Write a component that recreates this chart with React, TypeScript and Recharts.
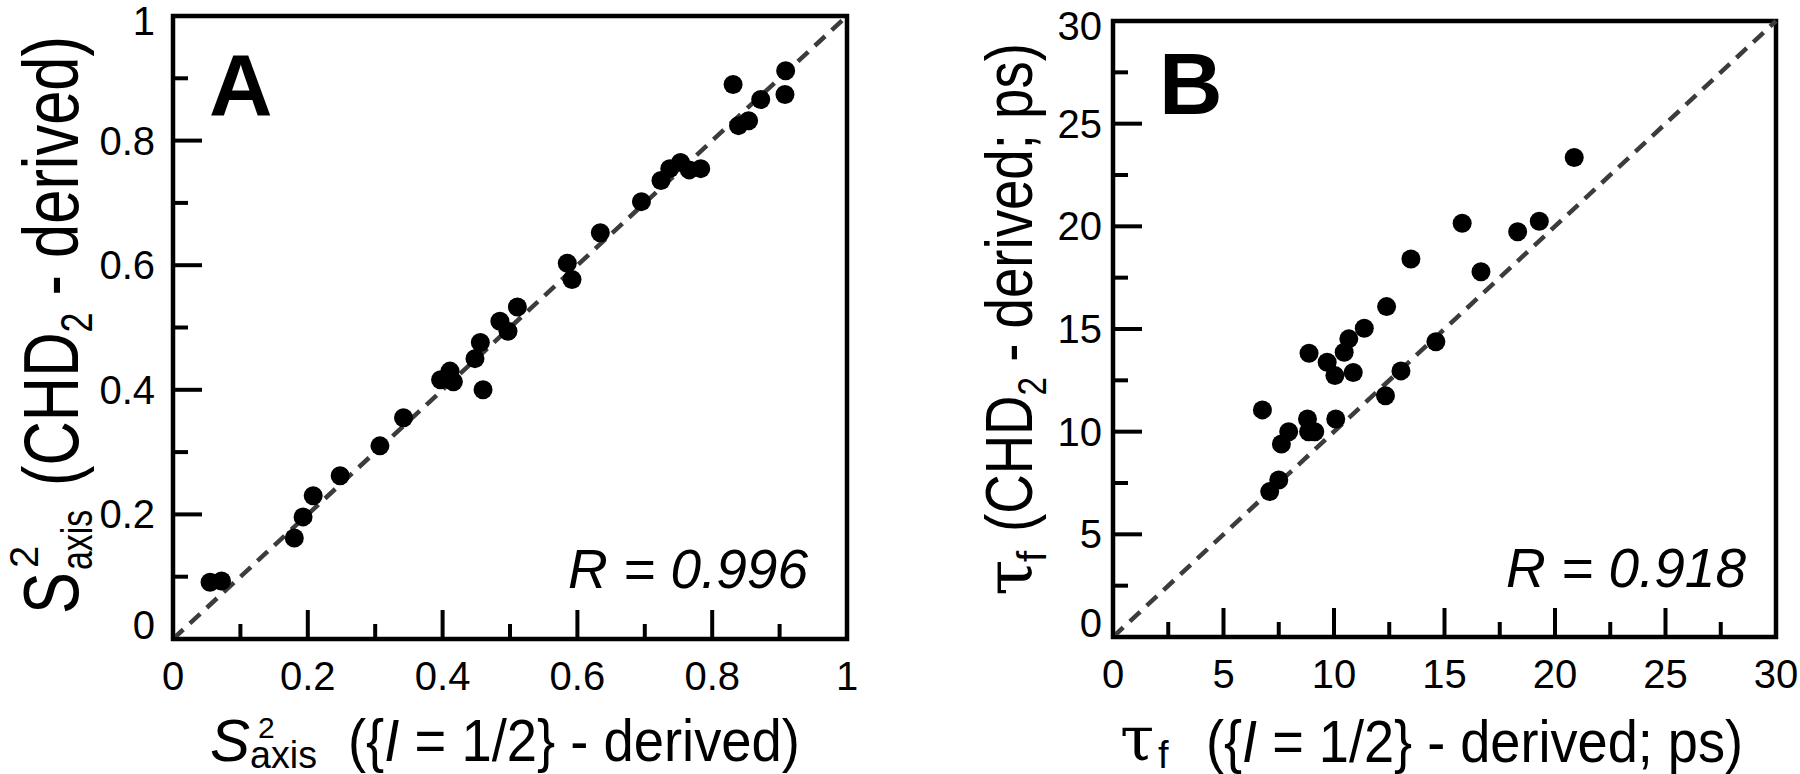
import React from 'react';
import {
  ScatterChart,
  Scatter,
  XAxis,
  YAxis,
  ReferenceLine,
  ReferenceArea,
} from 'recharts';

const FONT = '"Liberation Sans", Arial, Helvetica, sans-serif';
const SERIF = '"DejaVu Serif", "Liberation Serif", serif';

// Panel A: S2 axis, {I = 1/2}-derived (x) vs CHD2-derived (y)
const aX = [
  0.055, 0.072, 0.18, 0.193, 0.208, 0.248, 0.307, 0.342, 0.397, 0.411, 0.416,
  0.448, 0.456, 0.46, 0.485, 0.497, 0.511, 0.585, 0.592, 0.634, 0.695, 0.724,
  0.737, 0.753, 0.766, 0.783, 0.831, 0.839, 0.854, 0.872, 0.909, 0.908,
];
const aY = [
  0.091, 0.093, 0.162, 0.196, 0.23, 0.262, 0.31, 0.355, 0.416, 0.43, 0.413,
  0.45, 0.476, 0.4, 0.51, 0.494, 0.533, 0.603, 0.577, 0.652, 0.702, 0.736,
  0.755, 0.765, 0.753, 0.755, 0.89, 0.824, 0.832, 0.866, 0.912, 0.874,
];
const aMajor = [0, 0.2, 0.4, 0.6, 0.8, 1];
const aMinor = [0.1, 0.3, 0.5, 0.7, 0.9];

// Panel B: tau_f in ps
const bX = [
  6.76, 7.09, 7.5, 7.62, 7.95, 8.8, 8.87, 8.85, 9.13, 9.69, 10.04, 10.08,
  10.46, 10.67, 10.87, 11.37, 12.33, 12.38, 13.03, 13.48, 14.61, 15.8, 16.65,
  18.31, 19.29, 20.87,
];
const bY = [
  11.06, 7.08, 7.65, 9.4, 10.0, 10.62, 13.82, 10.0, 10.0, 13.38, 12.73, 10.62,
  13.87, 14.52, 12.88, 15.04, 11.75, 16.09, 12.96, 18.41, 14.38, 20.15, 17.79,
  19.74, 20.25, 23.35,
];
const bMajor = [0, 5, 10, 15, 20, 25, 30];
const bMinor = [2.5, 7.5, 12.5, 17.5, 22.5, 27.5];

const aPoints = aX.map((x, i) => ({ x, y: aY[i] }));
const bPoints = bX.map((x, i) => ({ x, y: bY[i] }));
const aTicks = [...aMajor, ...aMinor].sort((p, q) => p - q);
const bTicks = [...bMajor, ...bMinor].sort((p, q) => p - q);

const fmtA = (v: number) => (v === 0 || v === 1 ? String(v) : v.toFixed(1));
const fmtB = (v: number) => String(v);

const dot = (p: any) => <circle cx={p.cx} cy={p.cy} r={9.5} fill="#000" />;

const xTick = (majors: number[], fmt: (v: number) => string) => (p: any) => {
  const v = p.payload.value;
  const big = majors.includes(v);
  return (
    <g>
      <line x1={p.x} x2={p.x} y1={p.y} y2={p.y - (big ? 29 : 15)} stroke="#000" strokeWidth={4} />
      {big && (
        <text x={p.x} y={p.y + 51} textAnchor="middle" fontSize={40} fontFamily={FONT} fill="#000">
          {fmt(v)}
        </text>
      )}
    </g>
  );
};

const yTick = (majors: number[], fmt: (v: number) => string, gap: number, top: number) => (p: any) => {
  const v = p.payload.value;
  const big = majors.includes(v);
  const shift = v === 0 ? -14 : v === top ? 5 : 0;
  return (
    <g>
      <line x1={p.x} x2={p.x + (big ? 29 : 15)} y1={p.y} y2={p.y} stroke="#000" strokeWidth={4} />
      {big && (
        <text x={p.x - gap} y={p.y + 14 + shift} textAnchor="end" fontSize={40} fontFamily={FONT} fill="#000">
          {fmt(v)}
        </text>
      )}
    </g>
  );
};

type PanelProps = {
  points: { x: number; y: number }[];
  ticks: number[];
  majors: number[];
  max: number;
  fmt: (v: number) => string;
  gap: number;
  margin: { top: number; right: number; bottom: number; left: number };
};

const Panel: React.FC<PanelProps> = ({ points, ticks, majors, max, fmt, gap, margin }) => (
  <ScatterChart width={900} height={774} margin={margin}>
    <XAxis
      type="number"
      dataKey="x"
      domain={[0, max]}
      ticks={ticks}
      interval={0}
      height={40}
      axisLine={false}
      tickLine={false}
      tickSize={0}
      tickMargin={0}
      tick={xTick(majors, fmt)}
    />
    <YAxis
      type="number"
      dataKey="y"
      domain={[0, max]}
      ticks={ticks}
      interval={0}
      width={60}
      axisLine={false}
      tickLine={false}
      tickSize={0}
      tickMargin={0}
      tick={yTick(majors, fmt, gap, max)}
    />
    <ReferenceArea x1={0} x2={max} y1={0} y2={max} fill="none" stroke="#000" strokeWidth={4.5} />
    <ReferenceLine
      segment={[{ x: 0, y: 0 }, { x: max, y: max }]}
      stroke="#3c3c3c"
      strokeWidth={4.5}
      strokeDasharray="14 9"
    />
    <Scatter data={points} shape={dot} isAnimationActive={false} />
  </ScatterChart>
);

const Titles: React.FC = () => (
  <svg
    width={1800}
    height={774}
    style={{ position: 'absolute', left: 0, top: 0, pointerEvents: 'none', whiteSpace: 'pre' }}
    fontFamily={FONT}
    fill="#000"
  >
    {/* panel letters */}
    <text x={209} y={115} fontSize={88} fontWeight="bold">A</text>
    <text x={1159} y={114} fontSize={88} fontWeight="bold">B</text>

    {/* correlation coefficients */}
    <text x={568} y={588} fontSize={55} fontStyle="italic">R = 0.996</text>
    <text x={1506} y={587} fontSize={55} fontStyle="italic">R = 0.918</text>

    {/* x title A */}
    <text x={210} y={761} fontSize={60} fontStyle="italic">S</text>
    <text x={258} y={738} fontSize={30}>2</text>
    <text x={250} y={768} fontSize={38} textLength={67} lengthAdjust="spacingAndGlyphs">axis</text>
    <text x={348} y={761} fontSize={60} textLength={452} lengthAdjust="spacingAndGlyphs">
      {'({'}<tspan fontStyle="italic">I</tspan>{' = 1/2} - derived)'}
    </text>

    {/* x title B */}
    <text x={1120} y={760} fontSize={62} fontFamily={SERIF}>τ</text>
    <text x={1158} y={768} fontSize={38}>f</text>
    <text x={1206} y={762} fontSize={60} textLength={537} lengthAdjust="spacingAndGlyphs">
      {'({'}<tspan fontStyle="italic">I</tspan>{' = 1/2} - derived; ps)'}
    </text>

    {/* y title A */}
    <g transform="translate(78,614) rotate(-90)">
      <text x={0} y={0} fontSize={77} textLength={42} lengthAdjust="spacingAndGlyphs">S</text>
      <text x={46} y={-40} fontSize={40}>2</text>
      <text x={44} y={14} fontSize={45} textLength={60} lengthAdjust="spacingAndGlyphs">axis</text>
      <text x={128} y={0} fontSize={77} textLength={450} lengthAdjust="spacingAndGlyphs">
        {'(CHD'}<tspan fontSize={45} dy={14}>2</tspan><tspan dy={-14}>{' - derived)'}</tspan>
      </text>
    </g>

    {/* y title B */}
    <g transform="translate(1032,596) rotate(-90)">
      <text x={0} y={0} fontSize={66} fontFamily={SERIF}>τ</text>
      <text x={34} y={14} fontSize={40}>f</text>
      <text x={64} y={0} fontSize={66} textLength={489} lengthAdjust="spacingAndGlyphs">
        {'(CHD'}<tspan fontSize={40} dy={14}>2</tspan><tspan dy={-14}>{' - derived; ps)'}</tspan>
      </text>
    </g>
  </svg>
);

export default function App() {
  return (
    <div style={{ position: 'relative', width: 1800, height: 774, background: '#fff', fontFamily: FONT }}>
      <style>{'body{margin:0;}'}</style>
      <div style={{ position: 'absolute', left: 0, top: 0 }}>
        <Panel
          points={aPoints}
          ticks={aTicks}
          majors={aMajor}
          max={1}
          fmt={fmtA}
          gap={18}
          margin={{ top: 16, right: 53, bottom: 95, left: 113 }}
        />
      </div>
      <div style={{ position: 'absolute', left: 900, top: 0 }}>
        <Panel
          points={bPoints}
          ticks={bTicks}
          majors={bMajor}
          max={30}
          fmt={fmtB}
          gap={11}
          margin={{ top: 21, right: 24, bottom: 97, left: 153 }}
        />
      </div>
      <Titles />
    </div>
  );
}
